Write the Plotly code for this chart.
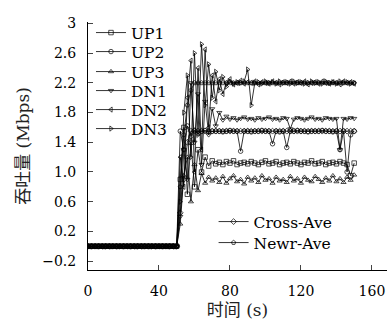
import plotly.graph_objects as go

time_s = list(range(0, 151, 2))
zeros = [0.0] * 26  # x = 0..50 s, all flows idle

up1 = zeros + [0.90, 1.60, 0.70, 1.40, 0.80, 1.30, 1.00, 1.20, 1.08, 1.15,
               1.11, 1.13, 1.10, 1.14, 1.12, 1.15, 1.10, 1.12, 1.13, 1.11,
               1.14, 1.12, 1.10, 1.13, 1.15, 1.11, 1.12, 1.14, 1.10, 1.12,
               1.13, 1.11, 1.14, 1.12, 1.10, 1.13, 1.12, 1.15, 1.11, 1.12,
               1.14, 1.10, 1.12, 1.13, 1.11, 1.14, 1.12, 1.10, 0.95, 1.12]
up2 = zeros + [1.55, 1.30, 1.62, 1.48, 1.56, 1.52, 1.55, 1.56, 1.54, 1.55,
               1.55, 1.55, 1.54, 1.55, 1.56, 1.55, 1.55, 1.28, 1.55, 1.55,
               1.54, 1.55, 1.55, 1.56, 1.55, 1.55, 1.38, 1.55, 1.54, 1.55,
               1.33, 1.55, 1.55, 1.56, 1.55, 1.55, 1.54, 1.55, 1.55, 1.55,
               1.56, 1.55, 1.55, 1.54, 1.55, 1.30, 1.55, 1.00, 1.50, 1.55]
up3 = zeros + [0.30, 0.95, 1.20, 0.60, 1.10, 0.75, 0.98, 0.85, 0.93, 0.88,
               0.92, 0.86, 0.94, 0.85, 0.91, 0.95, 0.87, 0.90, 0.84, 0.93,
               0.88, 0.92, 0.86, 0.95, 0.89, 0.91, 0.85, 0.93, 0.88, 0.90,
               0.86, 0.94, 0.88, 0.91, 0.85, 0.93, 0.89, 0.87, 0.94, 0.90,
               0.86, 0.92, 0.88, 0.95, 0.87, 0.91, 0.86, 0.93, 0.89, 0.96]
dn1 = zeros + [0.40, 1.30, 0.90, 2.20, 1.40, 2.05, 1.10, 1.95, 1.50, 1.85,
               1.62, 1.80, 1.70, 1.75, 1.71, 1.73, 1.70, 1.72, 1.74, 1.71,
               1.72, 1.70, 1.73, 1.71, 1.72, 1.74, 1.71, 1.72, 1.70, 1.73,
               1.72, 1.58, 1.71, 1.73, 1.72, 1.70, 1.72, 1.74, 1.71, 1.72,
               1.70, 1.73, 1.72, 1.71, 1.72, 1.30, 1.72, 1.71, 1.73, 1.72]
dn2 = zeros + [1.20, 0.80, 2.00, 2.50, 1.00, 2.40, 1.30, 2.65, 1.60, 2.30,
               1.95, 2.25, 2.05, 2.20, 2.25, 2.18, 2.20, 2.23, 2.19, 2.21,
               2.20, 2.22, 2.18, 2.21, 2.20, 2.19, 2.22, 2.20, 2.18, 2.21,
               2.20, 2.22, 2.19, 2.21, 2.20, 2.22, 2.18, 2.20, 2.21, 2.19,
               2.22, 2.20, 2.19, 2.21, 2.20, 2.18, 2.22, 2.20, 2.21, 2.19]
dn3 = zeros + [0.60, 1.80, 2.30, 1.20, 2.60, 1.50, 2.72, 1.90, 2.45, 2.00,
               2.35, 2.10, 2.28, 2.15, 2.22, 2.19, 2.21, 2.20, 2.22, 2.38,
               1.90, 2.20, 2.21, 2.19, 2.22, 2.20, 2.21, 2.19, 2.22, 2.20,
               2.21, 2.19, 2.22, 2.20, 2.21, 2.19, 2.20, 2.22, 2.20, 2.21,
               2.19, 2.22, 2.20, 2.21, 2.19, 2.22, 2.20, 2.21, 2.19, 2.20]
cross_ave = zeros + [0.45, 0.90, 1.40, 1.55, 1.55, 1.55, 1.55, 1.55, 1.55, 1.55,
                     1.55, 1.55, 1.55, 1.55, 1.55, 1.55, 1.55, 1.55, 1.55, 1.55,
                     1.55, 1.55, 1.55, 1.55, 1.55, 1.55, 1.55, 1.55, 1.55, 1.55,
                     1.55, 1.55, 1.55, 1.55, 1.55, 1.55, 1.55, 1.55, 1.55, 1.55,
                     1.55, 1.55, 1.55, 1.55, 1.55, 1.55, 1.55, 1.55, 1.55, 1.55]
newr_ave = zeros + [0.80, 1.50, 1.90, 2.10, 2.20, 2.20, 2.20, 2.20, 2.20, 2.20,
                    2.20, 2.20, 2.20, 2.20, 2.20, 2.20, 2.20, 2.20, 2.20, 2.20,
                    2.20, 2.20, 2.20, 2.20, 2.20, 2.20, 2.20, 2.20, 2.20, 2.20,
                    2.20, 2.20, 2.20, 2.20, 2.20, 2.20, 2.20, 2.20, 2.20, 2.20,
                    2.20, 2.20, 2.20, 2.20, 2.20, 2.20, 2.20, 2.20, 2.20, 2.20]

names = ["UP1", "UP2", "UP3", "DN1", "DN2", "DN3", "Cross-Ave", "Newr-Ave"]
values = [up1, up2, up3, dn1, dn2, dn3, cross_ave, newr_ave]
symbols = ["square-open", "circle-open", "triangle-up-open",
           "triangle-down-open", "triangle-left-open", "triangle-right-open",
           "diamond-open", "pentagon-open"]

y_ticks = [-0.2, 0.2, 0.6, 1.0, 1.4, 1.8, 2.2, 2.6, 3.0]
y_ticktext = ["\u22120.2", "0.2", "0.6", "1.0", "1.4", "1.8", "2.2", "2.6", "3"]
x_ticks = [0, 40, 80, 120, 160]

# legend entry centre positions (pixels from top) and left positions (paper)
PLOT_TOP, PLOT_BOTTOM = 22, 270
leg_centres = [33, 52, 72, 91, 110, 129, 222, 243]
leg_x = [0.01] * 6 + [0.42] * 2

FONT = "DejaVu Serif, Noto Sans CJK SC"
fig = go.Figure()
legend_layout = {}
for i, (name, vals, sym) in enumerate(zip(names, values, symbols)):
    key = "legend" if i == 0 else f"legend{i + 1}"
    fig.add_trace(go.Scatter(x=time_s, y=vals, name=name, mode="lines+markers",
                             line=dict(color="black", width=0.8),
                             marker=dict(symbol=sym, size=4.5, color="black",
                                         line=dict(width=0.7, color="black")),
                             legend=key))
    yc = (PLOT_BOTTOM - leg_centres[i]) / (PLOT_BOTTOM - PLOT_TOP)
    legend_layout[key] = dict(x=leg_x[i], y=yc, xanchor="left", yanchor="middle",
                              bgcolor="rgba(0,0,0,0)", font=dict(size=15.5),
                              itemwidth=30, borderwidth=0)

fig.update_layout(
    width=387, height=325,
    margin=dict(l=88, r=0, t=PLOT_TOP, b=325 - PLOT_BOTTOM),
    paper_bgcolor="white", plot_bgcolor="white",
    font=dict(family=FONT, size=14, color="black"),
    showlegend=True,
    xaxis=dict(range=[0, 168.5], tickvals=x_ticks, ticks="inside", ticklen=5,
               showline=True, linecolor="black", linewidth=1, showgrid=False,
               zeroline=False, mirror=False, ticklabelstandoff=8,
               title=dict(text="时间 (s)", standoff=6, font=dict(color="#222"))),
    yaxis=dict(range=[-0.32, 3.02], tickvals=y_ticks, ticktext=y_ticktext,
               ticks="inside", ticklen=5, showline=True, linecolor="black",
               linewidth=1, showgrid=False, zeroline=False, mirror=False,
               ticklabelstandoff=8,
               title=dict(text="吞吐量 (Mbps)", standoff=8, font=dict(color="#222"))),
    **legend_layout,
)
fig.write_html("out.html")
